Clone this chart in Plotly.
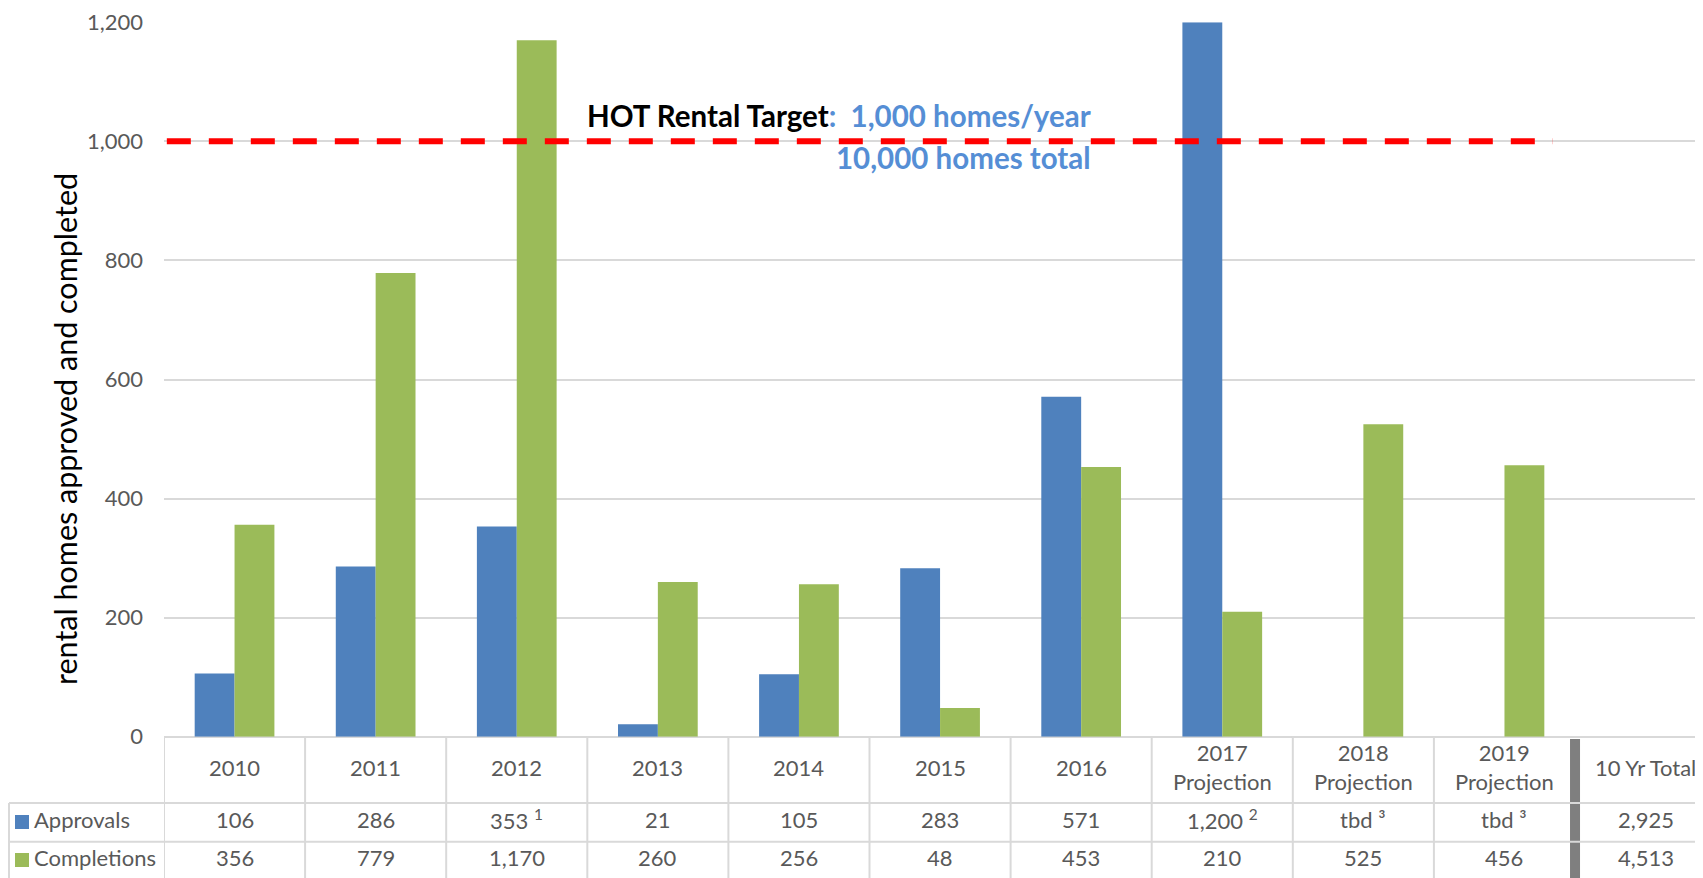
import plotly.graph_objects as go

# ---------------- data ----------------
categories = ["2010", "2011", "2012", "2013", "2014", "2015", "2016",
              "2017<br>Projection", "2018<br>Projection", "2019<br>Projection"]
total_label = "10 Yr Total"
approvals = [106, 286, 353, 21, 105, 283, 571, 1200, None, None]
completions = [356, 779, 1170, 260, 256, 48, 453, 210, 525, 456]
approval_notes = ["", "", " <sup>1</sup>", "", "", "", "", " <sup>2</sup>", "", ""]
approval_missing_label = "tbd \u00b3"
series_names = ["Approvals", "Completions"]
target_per_year = 1000
target_total_text = "10,000 homes total"
y_ticks = [0, 200, 400, 600, 800, 1000, 1200]

# ---------------- styling ----------------
W, H = 1703, 878
OFF = 8  # page body margin offset of the rendered figure
BLUE = "#4F81BD"
GREEN = "#9BBB59"
TXT = "#595959"
GRID = "#D9D9D9"
FONT = "Lato"
FS = 22


def py(p):
    """screen pixel row -> paper fraction"""
    return 1 - (p - OFF) / H


def px(p):
    """screen pixel column -> paper fraction"""
    return (p - OFF) / W


xs = list(range(len(categories)))
fig = go.Figure()
fig.add_trace(go.Bar(x=xs, y=approvals, name=series_names[0], marker_color=BLUE,
                     marker_line_width=0))
fig.add_trace(go.Bar(x=xs, y=completions, name=series_names[1], marker_color=GREEN,
                     marker_line_width=0))

shapes = []
annotations = []

# target line
shapes.append(dict(type="line", xref="x", yref="y", x0=-0.48, x1=9.344,
                   y0=target_per_year, y1=target_per_year,
                   line=dict(color="#FF0000", width=6, dash="24px,18px")))

annotations.append(dict(
    xref="paper", yref="paper", x=px(1093), y=py(115), xanchor="right", yanchor="middle",
    text="<b>HOT Rental Target</b><b><span style='color:#558ED5'>:\u00a0 "
         + f"{target_per_year:,} homes/year</span></b>",
    showarrow=False, font=dict(family=FONT, size=29.5, color="black")))
annotations.append(dict(
    xref="paper", yref="paper", x=px(1093), y=py(158), xanchor="right", yanchor="middle",
    text=f"<b>{target_total_text}</b>", showarrow=False,
    font=dict(family=FONT, size=29.5, color="#558ED5")))

# y-axis title
annotations.append(dict(
    xref="paper", yref="paper", x=px(65), y=py(429), xanchor="center", yanchor="middle",
    text="rental homes approved and completed", textangle=-90, showarrow=False,
    font=dict(family=FONT, size=30.5, color="black")))

# ---------------- data table ----------------
row_top, row1, row2 = 736.7, 803, 841.7
hdr_y, r1_y, r2_y = 767, 819, 857


def cell(xv, yv, text, xref="x", xanchor="center", size=FS):
    return dict(xref=xref, yref="paper", x=xv, y=py(yv), text=text, showarrow=False,
                xanchor=xanchor, yanchor="middle",
                font=dict(family=FONT, size=size, color=TXT))


for i, cat in enumerate(categories):
    annotations.append(cell(i, hdr_y, cat))
    a = approvals[i]
    atext = f"{a:,}{approval_notes[i]}" if a is not None else approval_missing_label
    annotations.append(cell(i, r1_y, atext))
    annotations.append(cell(i, r2_y, f"{completions[i]:,}"))

tot_x = len(categories)
annotations.append(cell(tot_x, hdr_y, total_label))
annotations.append(cell(tot_x, r1_y, f"{sum(v for v in approvals if v is not None):,}"))
annotations.append(cell(tot_x, r2_y, f"{sum(completions):,}"))

# legend keys in table
for name, col, yc in [(series_names[0], BLUE, r1_y + 3), (series_names[1], GREEN, r2_y + 3)]:
    shapes.append(dict(type="rect", xref="paper", yref="paper", x0=px(15), x1=px(29),
                       y0=py(yc + 7), y1=py(yc - 7), fillcolor=col, line_width=0))
    annotations.append(cell(px(32), yc - 3, name, xref="paper", xanchor="left"))

# grid lines of table
for i in range(len(categories)):
    shapes.append(dict(type="line", xref="x", yref="paper", x0=i - 0.5, x1=i - 0.5,
                       y0=py(row_top), y1=py(878), line=dict(color=GRID, width=2)))
shapes.append(dict(type="line", xref="x", yref="paper", x0=len(categories) - 0.5,
                   x1=len(categories) - 0.5, y0=py(739), y1=py(878),
                   line=dict(color="#7F7F7F", width=10)))
for yy in (row1, row2):
    shapes.append(dict(type="line", xref="paper", yref="paper", x0=px(9), x1=px(1703),
                       y0=py(yy), y1=py(yy), line=dict(color=GRID, width=2)))
shapes.append(dict(type="line", xref="paper", yref="paper", x0=px(9), x1=px(9),
                   y0=py(row1), y1=py(878), line=dict(color=GRID, width=2)))

fig.update_layout(
    width=W, height=H, autosize=False,
    margin=dict(l=0, r=0, t=0, b=0, pad=0, autoexpand=False),
    paper_bgcolor="white", plot_bgcolor="white",
    barmode="group", bargap=0.435, bargroupgap=0,
    showlegend=False,
    shapes=shapes, annotations=annotations,
    xaxis=dict(domain=[px(164), px(1703)], range=[-0.5, 10.407], showgrid=False,
               automargin=False,
               showticklabels=False, zeroline=False, showline=False, ticks=""),
    yaxis=dict(domain=[py(736.7), py(22.3)], range=[0, 1200], tickvals=y_ticks,
               automargin=False,
               tickformat=",", showgrid=True, gridcolor=GRID, gridwidth=1.5,
               zeroline=True, zerolinecolor=GRID, zerolinewidth=2, showline=False,
               ticks="", ticklabelstandoff=20,
               tickfont=dict(family=FONT, size=FS, color=TXT)),
)

fig.write_html("out.html")
